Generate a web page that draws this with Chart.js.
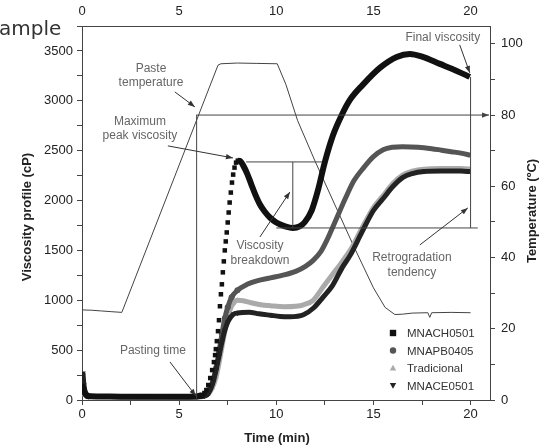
<!DOCTYPE html>
<html>
<head>
<meta charset="utf-8">
<script src="https://cdn.jsdelivr.net/npm/chart.js@4.4.0/dist/chart.umd.min.js"></script>
<style>
  html, body { margin: 0; padding: 0; background: #fff; }
  #wrap { position: relative; width: 550px; height: 447px; }
</style>
</head>
<body>
<div id="wrap"><canvas id="chart" width="550" height="447"></canvas></div>
<script>
// values: time in min, viscosity in cP, temperature in ºC
const seriesNames = ["MNACH0501", "MNAPB0405", "Tradicional", "MNACE0501"];

const timeMNACH = [0.02, 0.08, 0.15, 0.3, 1, 2, 3, 4, 5, 5.9, 6.1, 6.2, 6.3, 6.4, 6.5, 6.6, 6.7, 6.79, 6.85, 6.89, 6.94, 7.0, 7.05, 7.1, 7.15, 7.2, 7.25, 7.3, 7.35, 7.4, 7.45, 7.5, 7.55, 7.6, 7.66, 7.72, 7.78, 7.85, 7.93, 8.02, 8.12, 8.3, 8.5, 8.7, 8.9, 9.16, 9.4, 9.67, 10.0, 10.19, 10.5, 10.85, 11.2, 11.47, 11.83, 12.14, 12.5, 12.91, 13.37, 13.79, 14.45, 15.33, 16.2, 16.87, 17.54, 18.42, 19.29, 19.96];
const viscMNACH = [140, 110, 70, 40, 35, 33, 33, 33, 33, 35, 45, 50, 70, 100, 150, 220, 300, 380, 450, 510, 590, 690, 800, 940, 1060, 1160, 1280, 1390, 1500, 1590, 1680, 1780, 1880, 1980, 2080, 2180, 2260, 2330, 2380, 2400, 2398, 2350, 2270, 2170, 2070, 1960, 1890, 1830, 1780, 1762, 1738, 1725, 1740, 1785, 1905, 2100, 2387, 2650, 2858, 3009, 3160, 3330, 3440, 3470, 3440, 3370, 3300, 3240];

const timeMNAPB = [0.02, 0.1, 0.3, 2, 4, 6.0, 6.2, 6.4, 6.6, 6.75, 6.9, 7.05, 7.2, 7.35, 7.5, 7.7, 8.0, 8.5, 9.0, 9.7, 10.3, 11.0, 11.5, 11.9, 12.3, 12.6, 13.0, 13.6, 14.0, 14.5, 15.0, 15.5, 16.0, 16.5, 17.3, 18.0, 18.5, 19.0, 19.5, 20.0];
const viscMNAPB = [120, 80, 38, 35, 35, 36, 45, 70, 120, 200, 320, 480, 660, 820, 930, 1030, 1100, 1160, 1195, 1225, 1250, 1290, 1340, 1400, 1490, 1600, 1775, 2040, 2200, 2330, 2440, 2510, 2535, 2540, 2535, 2520, 2505, 2490, 2475, 2455];

const timeTrad = [0.02, 0.1, 0.3, 6.0, 6.3, 6.5, 6.7, 6.9, 7.05, 7.2, 7.35, 7.5, 7.65, 7.8, 8.0, 8.3, 8.7, 9.2, 9.7, 10.4, 11.0, 11.4, 11.9, 12.4, 12.9, 13.4, 13.8, 14.4, 15.0, 15.5, 16.0, 16.5, 17.0, 17.6, 18.5, 19.5, 20.0];
const viscTrad = [100, 60, 35, 32, 40, 60, 120, 230, 370, 530, 690, 820, 920, 970, 1000, 995, 975, 955, 945, 935, 940, 955, 1000, 1130, 1260, 1390, 1500, 1720, 1930, 2050, 2170, 2255, 2295, 2315, 2320, 2320, 2315];

const timeMNACE = [0.05, 0.1, 0.2, 0.35, 6.0, 6.3, 6.5, 6.7, 6.9, 7.05, 7.2, 7.35, 7.5, 7.65, 7.8, 8.0, 8.6, 9.1, 9.7, 10.2, 10.7, 11.4, 11.9, 12.4, 12.9, 13.4, 13.8, 14.4, 15.0, 15.5, 16.0, 16.5, 17.0, 17.6, 18.5, 19.5, 20.0];
const viscMNACE = [270, 150, 60, 35, 32, 40, 65, 150, 300, 440, 580, 700, 780, 830, 860, 872, 880, 865, 850, 838, 835, 855, 920, 1030, 1150, 1330, 1450, 1680, 1900, 2020, 2140, 2230, 2270, 2290, 2295, 2295, 2290];

const timeTemp = [0, 0.5, 1, 1.5, 2.05, 7.0, 7.15, 8, 9, 10.05, 10.5, 11.1, 12, 13, 14, 15, 15.6, 16.1, 16.5, 17, 17.8, 17.9, 18, 19, 20];
const tempProfile = [25.3, 25.2, 25.0, 24.8, 24.6, 94.0, 94.4, 94.6, 94.5, 94.4, 88.5, 78.4, 67, 55, 43, 31.5, 26, 24, 24.1, 24.4, 24.5, 23.2, 24.5, 24.6, 24.5];

const timeTicks = [0, 5, 10, 15, 20];
const viscTicks = [0, 500, 1000, 1500, 2000, 2500, 3000, 3500];
const tempTicks = [0, 20, 40, 60, 80, 100];

// annotation texts and where they point (time, cP)
const notes = [
  { lines: ["Paste", "temperature"], at: [3.55, 3250], from: [4.78, 3089], to: [5.81, 2939] },
  { lines: ["Maximum", "peak viscosity"], at: [2.98, 2718], from: [4.42, 2548], to: [7.77, 2427] },
  { lines: ["Viscosity", "breakdown"], at: [9.16, 1474], from: [9.16, 1635], to: [10.7, 2086] },
  { lines: ["Retrogradation", "tendency"], at: [16.98, 1354], from: [17.39, 1555], to: [19.86, 1926] },
  { lines: ["Final viscosity"], at: [18.57, 3631], from: [19.44, 3561], to: [19.96, 3280] },
  { lines: ["Pasting time"], at: [3.65, 491], from: [4.53, 381], to: [5.86, 40] }
];
// guide lines (time, cP)
const guides = [
  [5.9, 0, 5.9, 2860],
  [8.45, 2387, 12.35, 2387],
  [10.0, 1725, 20.37, 1725],
  [10.85, 2387, 10.85, 1725],
  [20.0, 1725, 20.0, 3240]
];

const pts = (ts, vs) => ts.map((t, i) => ({ x: t, y: vs[i] }));
const marker = r => ctx => {
  const t = ctx.raw ? ctx.raw.x : -1;
  return (t < 0.4 || (t > 6.1 && t < 8.05)) ? r : 0;
};

const FONT = "'Liberation Sans', Arial, sans-serif";
const tickFont = { family: FONT, size: 13 };

function axisTicks(list, step) {
  return {
    stepSize: step, autoSkip: false, includeBounds: false, maxRotation: 0,
    color: '#222', font: tickFont,
    callback: v => list.includes(v) ? String(v) : ''
  };
}

function drawMarker(ctx, style, x, y, r) {
  ctx.beginPath();
  if (style === 'rect') {
    ctx.rect(x - r, y - r, 2 * r, 2 * r);
  } else if (style === 'circle') {
    ctx.arc(x, y, r, 0, Math.PI * 2);
  } else if (style === 'up') {
    ctx.moveTo(x, y - r); ctx.lineTo(x + r, y + r * 0.8); ctx.lineTo(x - r, y + r * 0.8);
  } else {
    ctx.moveTo(x, y + r); ctx.lineTo(x + r, y - r * 0.8); ctx.lineTo(x - r, y - r * 0.8);
  }
  ctx.closePath();
  ctx.fill();
}

function arrow(ctx, x1, y1, x2, y2) {
  ctx.beginPath(); ctx.moveTo(x1, y1); ctx.lineTo(x2, y2); ctx.stroke();
  const a = Math.atan2(y2 - y1, x2 - x1), L = 7, W = 2.6;
  ctx.beginPath();
  ctx.moveTo(x2, y2);
  ctx.lineTo(x2 - L * Math.cos(a) + W * Math.sin(a), y2 - L * Math.sin(a) - W * Math.cos(a));
  ctx.lineTo(x2 - L * Math.cos(a) - W * Math.sin(a), y2 - L * Math.sin(a) + W * Math.cos(a));
  ctx.closePath(); ctx.fill();
}

const overlay = {
  id: 'overlay',
  beforeDraw(chart) {
    const c = chart.ctx;
    c.save(); c.fillStyle = '#fff'; c.fillRect(0, 0, chart.width, chart.height); c.restore();
  },
  afterDatasetsDraw(chart) {
    const { ctx, chartArea: area, scales: { x, y, y2 } } = chart;
    const px = t => x.getPixelForValue(t), py = v => y.getPixelForValue(v);
    ctx.save();
    ctx.strokeStyle = '#444'; ctx.fillStyle = '#444'; ctx.lineWidth = 1;
    guides.forEach(g => {
      ctx.beginPath(); ctx.moveTo(px(g[0]), py(g[1])); ctx.lineTo(px(g[2]), py(g[3])); ctx.stroke();
    });
    // 80 ºC reference line pointing at the right axis
    arrow(ctx, px(5.9), y2.getPixelForValue(80), area.right - 1, y2.getPixelForValue(80));

    ctx.strokeStyle = '#333'; ctx.fillStyle = '#333';
    notes.forEach(n => arrow(ctx, px(n.from[0]), py(n.from[1]), px(n.to[0]), py(n.to[1])));

    ctx.fillStyle = '#666';
    ctx.font = '12px ' + FONT;
    ctx.textAlign = 'center'; ctx.textBaseline = 'middle';
    notes.forEach(n => {
      const lh = 14.5, cx = px(n.at[0]), cy = py(n.at[1]);
      n.lines.forEach((s, i) => ctx.fillText(s, cx, cy + (i - (n.lines.length - 1) / 2) * lh));
    });

    // legend inside the plot
    const styles = ['rect', 'circle', 'up', 'down'];
    const cols = ['#111', '#555', '#aaa', '#222'];
    ctx.font = '11.5px ' + FONT; ctx.textAlign = 'left';
    seriesNames.forEach((s, i) => {
      const ly = area.bottom - 67 + i * 17.5;
      ctx.fillStyle = cols[i];
      drawMarker(ctx, styles[i], area.left + 311, ly, 3.2);
      ctx.fillStyle = '#333';
      ctx.fillText(s, area.left + 325, ly + 1);
    });

    // axis titles
    ctx.fillStyle = '#222';
    ctx.font = 'bold 13px ' + FONT;
    ctx.textAlign = 'center'; ctx.textBaseline = 'alphabetic';
    ctx.fillText('Time (min)', 277, 442);
    ctx.save(); ctx.translate(31, 217); ctx.rotate(-Math.PI / 2);
    ctx.fillText('Viscosity profile (cP)', 0, 0); ctx.restore();
    ctx.save(); ctx.translate(536, 211); ctx.rotate(-Math.PI / 2);
    ctx.fillText('Temperature (ºC)', 0, 0); ctx.restore();

    ctx.fillStyle = '#333';
    ctx.font = "20px 'DejaVu Sans', sans-serif";
    ctx.textAlign = 'left';
    ctx.fillText('ample', -1, 35);
    ctx.restore();
  }
};

const ctx = document.getElementById('chart').getContext('2d');
const chart = new Chart(ctx, {
  type: 'line',
  data: {
    datasets: [
      {
        label: seriesNames[0], data: pts(timeMNACH, viscMNACH), yAxisID: 'y',
        borderColor: '#111', backgroundColor: '#111', borderWidth: 6,
        pointStyle: 'rect', pointRadius: marker(3.2), pointBorderWidth: 0,
        cubicInterpolationMode: 'monotone', order: 0,
        segment: {
          borderColor: c => (c.p0.parsed.x >= 6.15 && c.p1.parsed.x <= 8.03) ? 'rgba(0,0,0,0)' : undefined
        }
      },
      {
        label: seriesNames[1], data: pts(timeMNAPB, viscMNAPB), yAxisID: 'y',
        borderColor: '#555', backgroundColor: '#555', borderWidth: 5,
        pointStyle: 'circle', pointRadius: marker(3), pointBorderWidth: 0,
        cubicInterpolationMode: 'monotone', order: 2
      },
      {
        label: seriesNames[2], data: pts(timeTrad, viscTrad), yAxisID: 'y',
        borderColor: '#aaa', backgroundColor: '#aaa', borderWidth: 5,
        pointStyle: 'triangle', pointRadius: marker(3), pointBorderWidth: 0,
        cubicInterpolationMode: 'monotone', order: 3
      },
      {
        label: seriesNames[3], data: pts(timeMNACE, viscMNACE), yAxisID: 'y',
        borderColor: '#222', backgroundColor: '#222', borderWidth: 5,
        pointStyle: 'triangle', pointRotation: 180, pointRadius: marker(3.3), pointBorderWidth: 0,
        cubicInterpolationMode: 'monotone', order: 1
      },
      {
        label: 'Temperature', data: pts(timeTemp, tempProfile), yAxisID: 'y2',
        borderColor: '#444', borderWidth: 1, pointRadius: 0, tension: 0, order: 10
      }
    ]
  },
  options: {
    responsive: false,
    devicePixelRatio: 1,
    animation: false,
    events: [],
    layout: { padding: 0 },
    plugins: { legend: { display: false }, tooltip: { enabled: false } },
    scales: {
      x: {
        type: 'linear', position: 'bottom', min: 0, max: 21,
        afterFit: s => { s.height = 47; },
        border: { display: true, color: '#444' },
        grid: { drawOnChartArea: false, drawTicks: true, tickLength: 5, color: '#444' },
        ticks: Object.assign(axisTicks(timeTicks, 2.5), { padding: 2 })
      },
      xTop: {
        type: 'linear', axis: 'x', position: 'top', min: 0, max: 21,
        afterFit: s => { s.height = 26; },
        border: { display: true, color: '#444' },
        grid: { drawOnChartArea: false, drawTicks: false },
        ticks: Object.assign(axisTicks(timeTicks, 5), { padding: 7 })
      },
      y: {
        type: 'linear', position: 'left', min: 0, max: 3750,
        afterFit: s => { s.width = 82; },
        border: { display: true, color: '#444' },
        grid: { drawOnChartArea: false, drawTicks: true, tickLength: 5, color: '#444' },
        ticks: Object.assign(axisTicks(viscTicks, 250), { padding: 4 })
      },
      y2: {
        type: 'linear', position: 'right', min: 0, max: 105,
        afterFit: s => { s.width = 60; },
        border: { display: true, color: '#444' },
        grid: { drawOnChartArea: false, drawTicks: true, tickLength: 5, color: '#444' },
        ticks: Object.assign(axisTicks(tempTicks, 10), { padding: 6 })
      }
    }
  },
  plugins: [overlay]
});
</script>
</body>
</html>
